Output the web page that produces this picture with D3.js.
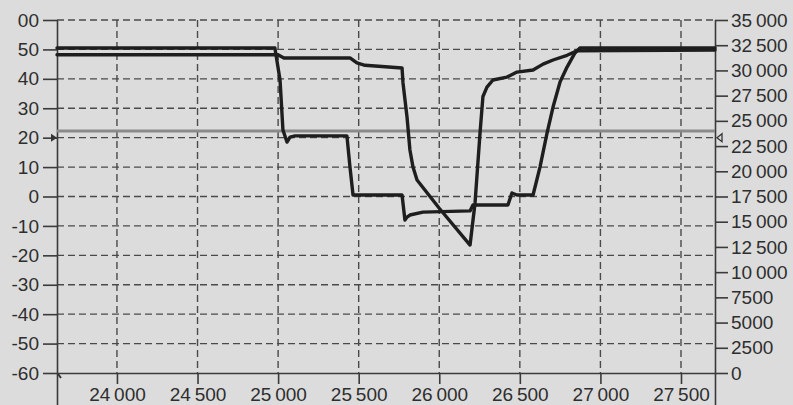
<!DOCTYPE html>
<html>
<head>
<meta charset="utf-8">
<script src="https://cdn.jsdelivr.net/npm/d3@7"></script>
<style>
  html, body { margin: 0; padding: 0; background: #dcdcdc; }
  svg { display: block; }
  text { font-family: "Liberation Sans", Arial, sans-serif; font-size: 19px; fill: #2e2e2e; }
</style>
</head>
<body>
<div id="chart"></div>
<script>
// --- data ---
const xTicks = [24000, 24500, 25000, 25500, 26000, 26500, 27000, 27500];
const leftTicks = [60, 50, 40, 30, 20, 10, 0, -10, -20, -30, -40, -50, -60];
const leftTickLabels = ["00", "50", "40", "30", "20", "10", "0", "-10", "-20", "-30", "-40", "-50", "-60"];
const rightTicks = [0, 2500, 5000, 7500, 10000, 12500, 15000, 17500, 20000, 22500, 25000, 27500, 30000, 32500, 35000];

// level of the grey reference line (left scale)
const refLevel = 22.3;
const markerLevel = 20;

// first curve: drops at 25000, stepwise down, back up around 26600
const seriesA = [
  [23628, 50.5], [24980, 50.5], [25012, 39.6], [25030, 22.6], [25043, 20.5], [25055, 18.5],
  [25074, 20.2], [25105, 20.6], [25427, 20.6], [25446, 10], [25465, 0.5], [25769, 0.5],
  [25787, -8], [25800, -7], [25818, -6.3], [25899, -5.3], [26191, -4.9], [26209, -2.9],
  [26426, -2.9], [26451, 1.2], [26482, 0.5], [26582, 0.5], [26625, 10], [26669, 21.6],
  [26706, 30.4], [26750, 39], [26793, 44], [26842, 48.8], [26873, 50.5], [27711, 50.5]
];

// second curve: V shaped dip down to about -16.5 near 26190
const seriesB = [
  [23628, 48.2], [24999, 48.2], [25036, 47.1], [25446, 47.1], [25489, 45.4], [25539, 44.6],
  [25769, 43.7], [25775, 38.6], [25800, 27], [25818, 15.8], [25837, 10], [25862, 5.6],
  [26000, -4], [26191, -16.5], [26222, -2.2], [26253, 21.6], [26271, 34], [26296, 37.2],
  [26333, 39.6], [26420, 40.6], [26482, 42.3], [26582, 43], [26644, 45], [26706, 46.4],
  [26793, 48], [26855, 49.5], [27711, 49.8]
];

// --- layout ---
const width = 793, height = 405;
const margin = { left: 57, right: 715, top: 20, bottom: 373 };

const svg = d3.select("#chart").append("svg")
  .attr("width", width)
  .attr("height", height);

const x = d3.scaleLinear().domain([23628, 27711]).range([margin.left, margin.right]);
const yL = d3.scaleLinear().domain([-60, 60]).range([margin.bottom, margin.top]);
const yR = d3.scaleLinear().domain([0, 35000]).range([margin.bottom, margin.top]);

const fmt = v => {
  const s = String(v);
  return v >= 10000 ? s.slice(0, s.length - 3) + "\u2009" + s.slice(-3) : s;
};

// grid (dashed)
const grid = svg.append("g")
  .attr("stroke", "#4a4a4a")
  .attr("stroke-width", 1.4)
  .attr("stroke-dasharray", "7,4");

grid.selectAll("line.h")
  .data(leftTicks.filter(d => d > -60))
  .join("line")
  .attr("class", "h")
  .attr("x1", margin.left).attr("x2", margin.right)
  .attr("y1", d => yL(d)).attr("y2", d => yL(d));

grid.selectAll("line.v")
  .data(xTicks)
  .join("line")
  .attr("class", "v")
  .attr("x1", d => x(d)).attr("x2", d => x(d))
  .attr("y1", margin.top).attr("y2", margin.bottom);

// bottom axis
const xAxis = d3.axisBottom(x).tickValues(xTicks).tickSize(11).tickPadding(4).tickFormat(fmt);
const gx = svg.append("g").attr("transform", `translate(0,${margin.bottom})`).call(xAxis);
gx.select(".domain").attr("d", `M${margin.left},0.5H${margin.right}`);

// left axis
const yAxisL = d3.axisLeft(yL).tickValues(leftTicks).tickSize(14).tickPadding(4)
  .tickFormat((d, i) => leftTickLabels[i]);
const gl = svg.append("g").attr("transform", `translate(${margin.left},0)`).call(yAxisL);
gl.select(".domain").attr("d", `M0.5,${margin.top}V${height}`);

// right axis
const yAxisR = d3.axisRight(yR).tickValues(rightTicks).tickSize(13).tickPadding(3).tickFormat(fmt);
const gr = svg.append("g").attr("transform", `translate(${margin.right},0)`).call(yAxisR);
gr.select(".domain").attr("d", `M0.5,${margin.top}V${height}`);

svg.selectAll(".tick line, .domain").attr("stroke", "#3a3a3a").attr("stroke-width", 1.6);
svg.selectAll(".tick text").attr("fill", "#2e2e2e").style("font-size", "19px")
  .style("font-family", "'Liberation Sans', Arial, sans-serif");

// grey reference line
svg.append("line")
  .attr("x1", margin.left).attr("x2", margin.right)
  .attr("y1", yL(refLevel)).attr("y2", yL(refLevel))
  .attr("stroke", "#8a8a8a")
  .attr("stroke-width", 3);

// small markers on both axes
const my = yL(markerLevel);
svg.append("path")
  .attr("d", `M${margin.left - 6},${my - 4}L${margin.left},${my}L${margin.left - 6},${my + 4}Z`)
  .attr("fill", "#333");
svg.append("path")
  .attr("d", `M${margin.right + 7},${my - 4}L${margin.right + 2},${my}L${margin.right + 7},${my + 4}Z`)
  .attr("fill", "none").attr("stroke", "#333").attr("stroke-width", 1.3);
svg.append("path")
  .attr("d", `M${margin.left + 1},${margin.bottom + 1}L${margin.left + 4},${margin.bottom + 5}`)
  .attr("stroke", "#333").attr("stroke-width", 2);

// curves
const line = d3.line()
  .x(d => x(d[0]))
  .y(d => yL(d[1]));

[seriesA, seriesB].forEach(s => {
  svg.append("path")
    .datum(s)
    .attr("d", line)
    .attr("fill", "none")
    .attr("stroke", "#1e1e1e")
    .attr("stroke-width", 3.4)
    .attr("stroke-linejoin", "round")
    .attr("stroke-linecap", "round");
});
</script>
</body>
</html>
